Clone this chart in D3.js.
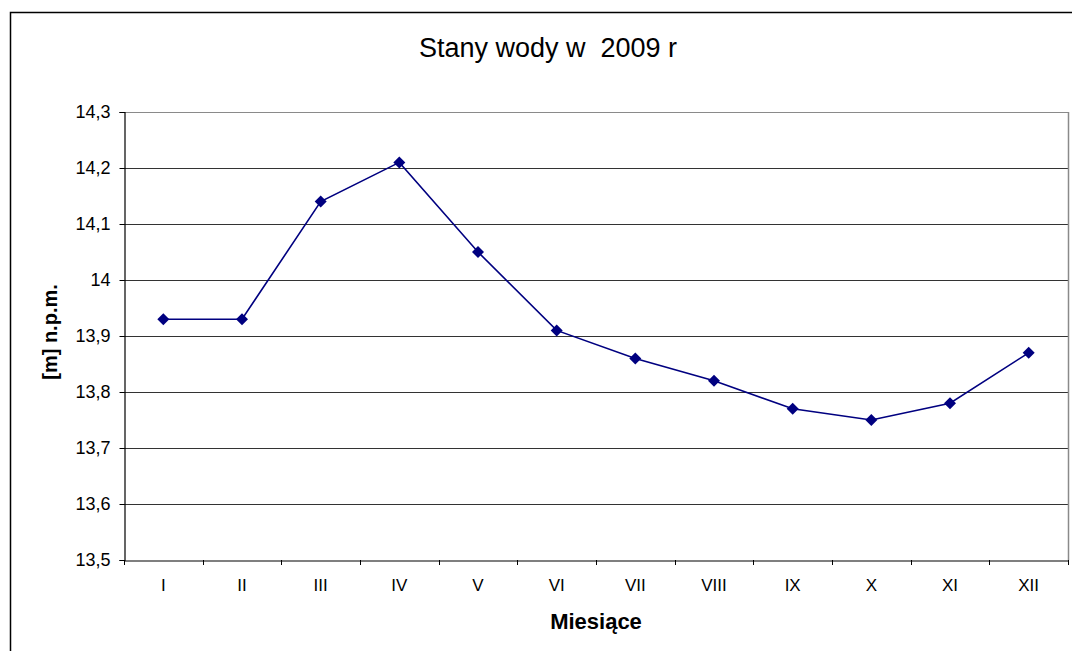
<!DOCTYPE html>
<html>
<head>
<meta charset="utf-8">
<script src="https://cdn.jsdelivr.net/npm/d3@7"></script>
<style>
  body { margin: 0; background: #fff; }
  svg { display: block; font-family: "Liberation Sans", Arial, sans-serif; }
</style>
</head>
<body>
<div id="chart"></div>
<script>
// months (roman numerals) and water levels [m] n.p.m.
const months = ['I', 'II', 'III', 'IV', 'V', 'VI', 'VII', 'VIII', 'IX', 'X', 'XI', 'XII'];
const levels = [13.93, 13.93, 14.14, 14.21, 14.05, 13.91, 13.86, 13.82, 13.77, 13.75, 13.78, 13.87];

const yTicks = [13.5, 13.6, 13.7, 13.8, 13.9, 14.0, 14.1, 14.2, 14.3];
const yTickLabels = ['13,5', '13,6', '13,7', '13,8', '13,9', '14', '14,1', '14,2', '14,3'];

const width = 1072,
      height = 651,
      plot = { left: 124, top: 112, right: 1068, bottom: 560 };

const svg = d3.select('#chart')
              .append('svg')
              .attr('width', width)
              .attr('height', height);

// outer chart frame, runs off the picture on the right and bottom
svg.append('rect')
   .attr('x', 10.5)
   .attr('y', 12.5)
   .attr('width', 1100)
   .attr('height', 700)
   .attr('fill', '#fff')
   .attr('stroke', '#000')
   .attr('stroke-width', 1.5);

const x = d3.scaleBand()
            .domain(months)
            .range([plot.left, plot.right])
            .padding(0);

const y = d3.scaleLinear()
            .domain([13.5, 14.3])
            .range([plot.bottom, plot.top]);

// horizontal gridlines
svg.append('g')
   .selectAll('line')
   .data(yTicks.slice(1))
   .enter()
   .append('line')
   .attr('x1', plot.left)
   .attr('x2', plot.right)
   .attr('y1', d => Math.round(y(d)) + 0.5)
   .attr('y2', d => Math.round(y(d)) + 0.5)
   .attr('stroke', (d, i) => i === yTicks.length - 2 ? '#8a8a8a' : '#333')
   .attr('stroke-width', 1);

// right edge of plot area
svg.append('line')
   .attr('x1', plot.right + 0.5)
   .attr('x2', plot.right + 0.5)
   .attr('y1', plot.top)
   .attr('y2', plot.bottom)
   .attr('stroke', '#8a8a8a')
   .attr('stroke-width', 1.5);

// y axis
const yAxis = d3.axisLeft(y)
                .tickValues(yTicks)
                .tickFormat((d, i) => yTickLabels[i])
                .tickSize(5)
                .tickPadding(9);

const gy = svg.append('g')
   .attr('transform', 'translate(' + (plot.left + 0.5) + ',0)')
   .call(yAxis);
gy.select('.domain').attr('stroke', '#000').attr('stroke-width', 1.2);
gy.selectAll('.tick line').attr('stroke', '#000');
gy.selectAll('.tick text')
  .attr('font-size', 18)
  .attr('font-family', '"Liberation Sans", Arial, sans-serif')
  .attr('fill', '#000');

// x axis: labels at category centres, ticks between categories
const xAxis = d3.axisBottom(x)
                .tickSize(0)
                .tickPadding(18);

const gx = svg.append('g')
   .attr('transform', 'translate(0,' + (plot.bottom + 0.5) + ')')
   .call(xAxis);
gx.select('.domain').attr('stroke', '#000').attr('stroke-width', 1.2);
gx.selectAll('.tick text')
  .attr('font-size', 17)
  .attr('font-family', '"Liberation Sans", Arial, sans-serif')
  .attr('fill', '#000');

svg.append('g')
   .selectAll('line')
   .data(months.concat(['end']))
   .enter()
   .append('line')
   .attr('x1', (d, i) => Math.round(plot.left + i * x.bandwidth()) + 0.5)
   .attr('x2', (d, i) => Math.round(plot.left + i * x.bandwidth()) + 0.5)
   .attr('y1', plot.bottom)
   .attr('y2', plot.bottom + 5)
   .attr('stroke', '#000');

// the series
const line = d3.line()
               .x((d, i) => x(months[i]) + x.bandwidth() / 2)
               .y(d => y(d));

svg.append('path')
   .datum(levels)
   .attr('d', line)
   .attr('fill', 'none')
   .attr('stroke', '#000080')
   .attr('stroke-width', 1.6);

svg.append('g')
   .selectAll('path')
   .data(levels)
   .enter()
   .append('path')
   .attr('transform', (d, i) => 'translate(' + (x(months[i]) + x.bandwidth() / 2) + ',' + y(d) + ')')
   .attr('d', 'M0,-6L6,0L0,6L-6,0Z')
   .attr('fill', '#000080');

// titles
svg.append('text')
   .attr('x', 548)
   .attr('y', 57)
   .attr('text-anchor', 'middle')
   .attr('font-size', 27)
   .style('white-space', 'pre')
   .attr('xml:space', 'preserve')
   .text('Stany wody w  2009 r');

svg.append('text')
   .attr('x', 596)
   .attr('y', 629)
   .attr('text-anchor', 'middle')
   .attr('font-size', 22)
   .attr('font-weight', 'bold')
   .text('Miesiące');

svg.append('text')
   .attr('transform', 'translate(57,332) rotate(-90)')
   .attr('text-anchor', 'middle')
   .attr('font-size', 20)
   .attr('font-weight', 'bold')
   .text('[m] n.p.m.');
</script>
</body>
</html>
